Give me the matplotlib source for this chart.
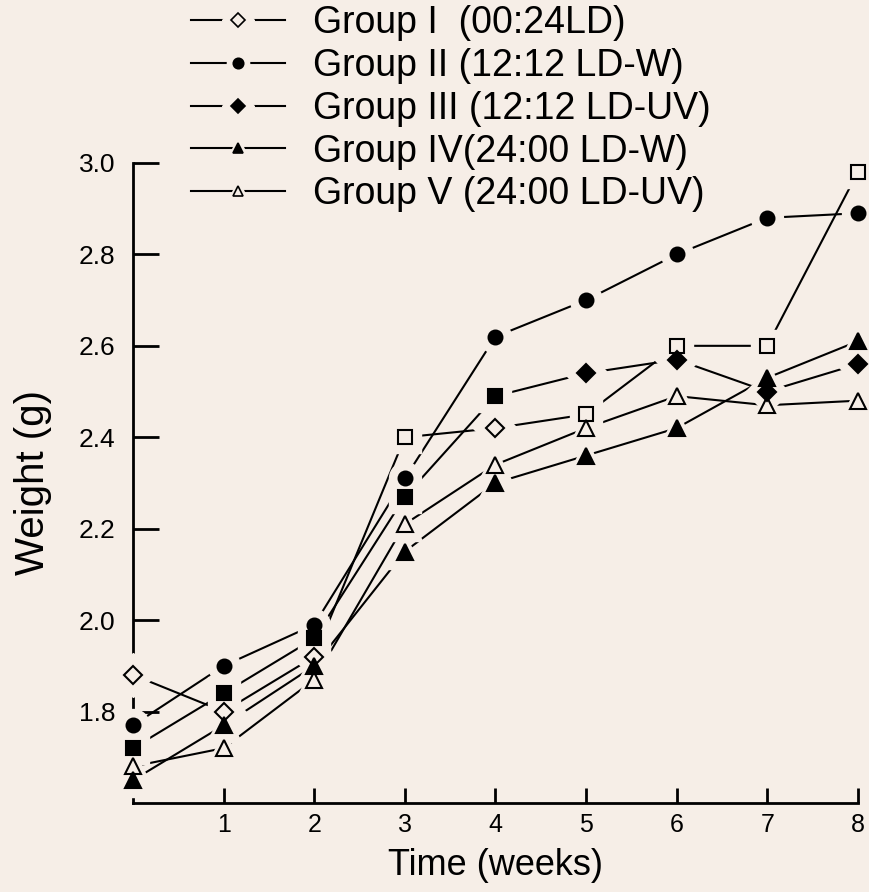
import matplotlib.pyplot as plt
from matplotlib.lines import Line2D
from matplotlib.legend_handler import HandlerTuple

plt.rcParams['font.family'] = ['Liberation Sans', 'DejaVu Sans']

bg = '#f6eee7'

weeks = [0, 1, 2, 3, 4, 5, 6, 7, 8]
group_1 = [1.88, 1.80, 1.92, 2.40, 2.42, 2.45, 2.60, 2.60, 2.98]
group_2 = [1.77, 1.90, 1.99, 2.31, 2.62, 2.70, 2.80, 2.88, 2.89]
group_3 = [1.72, 1.84, 1.96, 2.27, 2.49, 2.54, 2.57, 2.50, 2.56]
group_4 = [1.65, 1.77, 1.90, 2.15, 2.30, 2.36, 2.42, 2.53, 2.61]
group_5 = [1.68, 1.72, 1.87, 2.21, 2.34, 2.42, 2.49, 2.47, 2.48]

labels = ['Group I  (00:24LD)', 'Group II (12:12 LD-W)', 'Group III (12:12 LD-UV)',
          'Group IV(24:00 LD-W)', 'Group V (24:00 LD-UV)']

# the hand-drawn figure mixes squares and diamonds for groups I and III
marks_1 = ['D', 'D', 'D', 's', 'D', 's', 's', 's', 's']
marks_2 = ['o'] * 9
marks_3 = ['s', 's', 's', 's', 's', 'D', 'D', 'D', 'D']
marks_4 = ['^'] * 9
marks_5 = ['^'] * 9

series = [
    (group_1, marks_1, 'none', 'D'),
    (group_2, marks_2, 'black', 'o'),
    (group_3, marks_3, 'black', 'D'),
    (group_4, marks_4, 'black', '^'),
    (group_5, marks_5, 'none', '^'),
]

fig = plt.figure(figsize=(8.7, 8.92), dpi=100, facecolor=bg)
ax = fig.add_axes([0.153, 0.0998, 0.833, 0.7175])
ax.set_facecolor(bg)

size = {'D': 9, 's': 9.5, 'o': 10, '^': 11}

handles = []
for vals, marks, fill, leg_mark in series:
    ax.plot(weeks, vals, color='black', lw=1.5, zorder=2, clip_on=False)
    # background-coloured halo leaves a small gap between line and marker
    for x, y, m in zip(weeks, vals, marks):
        ax.plot(x, y, marker=m, ms=size[m] + 13, color=bg, mec=bg, ls='none',
                zorder=3, clip_on=False)
        ax.plot(x, y, marker=m, ms=size[m], mfc=fill, mec='black', mew=1.5,
                ls='none', zorder=4, clip_on=False)
    ln = Line2D([], [], color='black', lw=1.5)
    halo = Line2D([], [], marker=leg_mark, ms=16, color=bg, mec=bg, ls='none')
    mk = Line2D([], [], marker=leg_mark, ms=7.5, mfc=fill, mec='black', mew=1.2, ls='none')
    handles.append((ln, halo, mk))

ax.set_xlim(0, 8)
ax.set_ylim(1.6, 3.0)
ax.set_xticks([1, 2, 3, 4, 5, 6, 7, 8])
ax.set_yticks([1.8, 2.0, 2.2, 2.4, 2.6, 2.8, 3.0])
ax.set_yticklabels(['1.8', '2.0', '2.2', '2.4', '2.6', '2.8', '3.0'])
ax.spines['top'].set_visible(False)
ax.spines['right'].set_visible(False)
ax.spines['left'].set_linewidth(2)
ax.spines['bottom'].set_linewidth(2)
ax.tick_params(axis='y', direction='in', length=19, width=2, pad=13, labelsize=19)
ax.tick_params(axis='x', direction='in', length=11, width=2, pad=7, labelsize=18)

ax.set_xlabel('Time (weeks)', fontsize=26, labelpad=8)
ax.set_ylabel('Weight (g)', fontsize=29, labelpad=19)

fig.legend(handles, labels, handler_map={tuple: HandlerTuple(ndivide=1, pad=0)},
           loc='upper left', bbox_to_anchor=(0.22, 0.994), frameon=False,
           fontsize=27, handlelength=2.5, handletextpad=0.75, labelspacing=0.18,
           borderpad=0, borderaxespad=0)

fig.savefig('out.png', dpi=100, facecolor=bg)
